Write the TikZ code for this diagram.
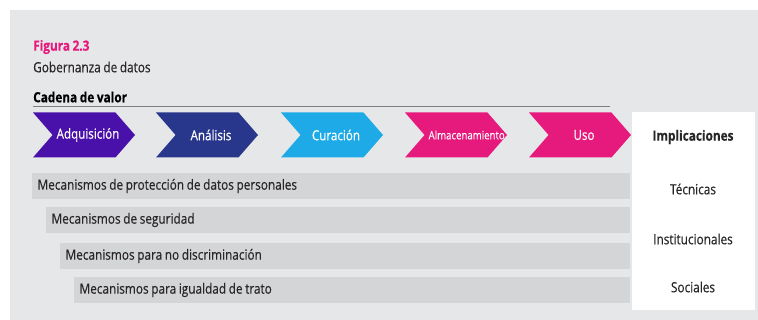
\documentclass[tikz,border=0pt]{standalone}
\usepackage{fontspec}
\setmainfont{Open Sans}[FakeStretch=0.84, WordSpace=0.85, FakeBold=0.4]
\usepackage{tikz}
\usetikzlibrary{shapes.symbols,positioning}

\definecolor{bggray}{RGB}{230,231,232}
\definecolor{bargray}{RGB}{212,213,215}
\definecolor{inkgray}{RGB}{40,38,40}
\definecolor{adqcol}{RGB}{74,16,170}
\definecolor{anacol}{RGB}{40,55,140}
\definecolor{curcol}{RGB}{30,170,230}
\definecolor{pinkcol}{RGB}{230,25,125}
% label pushed to the right inside a chevron
\newcommand{\chevlabel}[2]{\makebox[0pt]{\hspace*{#1}#2}}

\begin{document}
\begin{tikzpicture}[x=0.3mm, y=-0.3mm,
  chev/.style={signal, signal to=east, signal from=west, signal pointer angle=98,
    minimum width=30.6mm, minimum height=13.5mm, inner sep=0pt, text=white,
    font=\fontsize{11.8}{13}\selectfont},
  mech/.style={anchor=west, fill=bargray, minimum height=7.8mm, inner xsep=1.6mm,
    text=inkgray, font=\fontsize{12}{14}\selectfont, align=flush left},
  impl/.style={text=inkgray, font=\fontsize{12}{14}\selectfont},
]
\useasboundingbox (0,0) rectangle (758,320);
% Background panel
\fill[bggray] (10,10) rectangle (758,320);
% Titles
\node[anchor=west, inner sep=0pt, text=pinkcol, font=\bfseries\fontsize{12}{14}\selectfont] (fig) at (33,47) {Figura 2.3};
\node[anchor=west, inner sep=0pt, text=inkgray, font=\fontsize{12}{14}\selectfont] (gob) at (33,67) {Gobernanza de datos};
\node[anchor=west, inner sep=0pt, text=black, font=\bfseries\fontsize{12}{14}\selectfont] (cad) at (33,97) {Cadena de valor};
\draw[gray, line width=0.3mm] (33,107) -- (610,107);
% Value chain
\node[chev, fill=adqcol] (adq) at (84,135) {\chevlabel{2.4mm}{Adquisición}};
\node[chev, fill=anacol] (ana) at (207,135) {\chevlabel{2.4mm}{Análisis}};
\node[chev, fill=curcol] (cur) at (332,135) {\chevlabel{2.4mm}{Curación}};
\node[chev, fill=pinkcol, font=\fontsize{9.8}{11}\selectfont] (alm) at (456,135) {\chevlabel{6.4mm}{Almacenamiento}};
\node[chev, fill=pinkcol] (uso) at (580,135) {\chevlabel{2.4mm}{Uso}};
% Mechanism bars
\node[mech, minimum width=179.4mm, text width=176.2mm] (m1) at (32,186) {Mecanismos de protección de datos personales};
\node[mech, minimum width=175.2mm, text width=172mm] (m2) at (46,220) {Mecanismos de seguridad};
\node[mech, minimum width=171mm, text width=167.8mm] (m3) at (60,256) {Mecanismos para no discriminación};
\node[mech, minimum width=166.8mm, text width=163.6mm] (m4) at (74,290) {Mecanismos para igualdad de trato};
% Implications column
\node[fill=white, minimum width=36.9mm, minimum height=59.4mm, inner sep=0pt] (box) at (693.5,211) {};
\node[impl, font=\bfseries\fontsize{12}{14}\selectfont] (imp) at (693,137) {Implicaciones};
\node[impl] (tec) at (693,189) {Técnicas};
\node[impl] (ins) at (693,239) {Institucionales};
\node[impl] (soc) at (693,287) {Sociales};
\end{tikzpicture}
\end{document}
